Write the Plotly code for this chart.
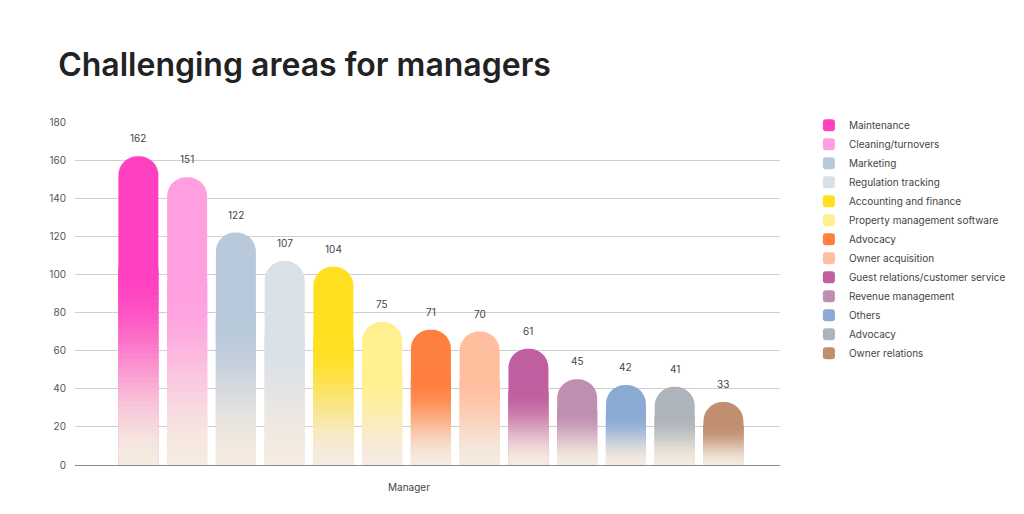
import plotly.graph_objects as go

categories = [
    "Maintenance", "Cleaning/turnovers", "Marketing", "Regulation tracking",
    "Accounting and finance", "Property management software", "Advocacy",
    "Owner acquisition", "Guest relations/customer service", "Revenue management",
    "Others", "Advocacy", "Owner relations",
]
values = [162, 151, 122, 107, 104, 75, 71, 70, 61, 45, 42, 41, 33]
colors = [
    "#ff40c0", "#ff9fdf", "#b8c9db", "#d9e0e8", "#ffdf1f", "#fff08f", "#ff7f3f",
    "#ffbf9f", "#bf5f9f", "#c08fb0", "#8aaad4", "#aeb4bb", "#bf8f6f",
]
y_ticks = [0, 20, 40, 60, 80, 100, 120, 140, 160, 180]

BASE = (245, 235, 224)   # beige at the foot of every bar
FADE = 0.63              # share of the bar (from the bottom) that fades
STEPS = 40


def hex_rgb(h):
    h = h.lstrip("#")
    return tuple(int(h[i:i + 2], 16) for i in (0, 2, 4))


def blend(c, t):
    r, g, b = (round(BASE[k] + (c[k] - BASE[k]) * t) for k in range(3))
    return f"rgb({r},{g},{b})"


xs = list(range(len(categories)))
fig = go.Figure()

# solid bars with rounded tops (these give the legend)
for i, (name, v, col) in enumerate(zip(categories, values, colors)):
    fig.add_trace(go.Bar(
        x=[xs[i]], y=[v], name=name, marker_color=col,
        marker_line_width=0, marker_cornerradius="50%", width=0.82,
        hoverinfo="name+y",
    ))

# gradient fade over the lower part of each bar
gx, gy, gbase, gcol = [], [], [], []
for i, (v, col) in enumerate(zip(values, colors)):
    rgb = hex_rgb(col)
    step = v * FADE / STEPS
    for k in range(STEPS):
        t = (k + 0.5) / STEPS
        gx.append(xs[i])
        gbase.append(k * step)
        gy.append(step * 1.6)
        gcol.append(blend(rgb, 3 * t ** 2 - 2 * t ** 3))
fig.add_trace(go.Bar(
    x=gx, y=gy, base=gbase, marker_color=gcol, marker_line_width=0,
    width=0.824, showlegend=False, hoverinfo="skip",
))

for i, v in enumerate(values):
    fig.add_annotation(x=xs[i], y=v, text=str(v), showarrow=False, yshift=18,
                       font=dict(size=10, color="#444"))

fig.update_layout(
    width=1024, height=514,
    barmode="overlay",
    plot_bgcolor="white", paper_bgcolor="white",
    font=dict(family="Inter", size=10, color="#444"),
    margin=dict(l=67, r=252, t=114, b=57),
    title=dict(text="Challenging areas for managers", xref="container", yref="container",
               x=0.049, y=0.889, xanchor="left", yanchor="middle",
               font=dict(family="Inter", size=32, color="#222", weight=600)),
    legend=dict(x=1.041, y=1.033, xanchor="left", yanchor="top",
                font=dict(size=10, color="#444"), itemclick=False),
    xaxis=dict(range=[-1.3, 13.16], tickvals=[5.55], ticktext=["Manager"],
               showgrid=False, zeroline=False, showline=True, linecolor="#8a8a8a",
               linewidth=1, ticks="", tickfont=dict(size=10, color="#444"),
               ticklabelstandoff=13),
    yaxis=dict(range=[0, 180], tickvals=y_ticks, showgrid=True, gridcolor="#cfcfcf",
               zeroline=False, ticks="", tickfont=dict(size=10, color="#555"),
               ticklabelstandoff=8),
)

fig.write_html("out.html")
